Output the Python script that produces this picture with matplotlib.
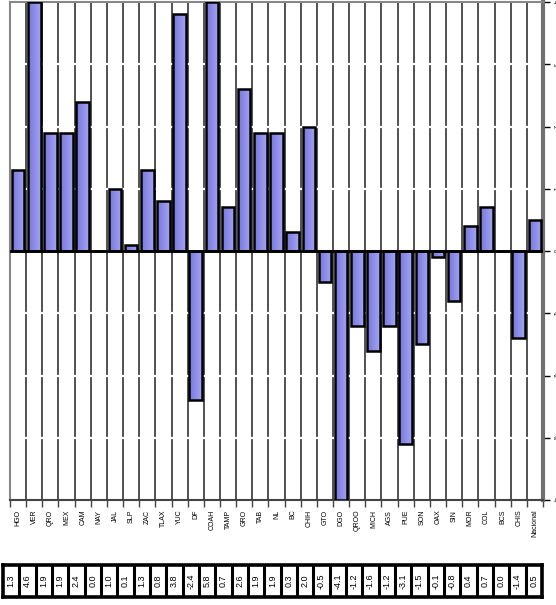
"""Bar chart of change by state, with value table underneath."""

import matplotlib.pyplot as plt
import numpy as np
from matplotlib.colors import LinearSegmentedColormap

plt.rcParams["font.family"] = ["Liberation Sans", "DejaVu Sans"]

# data
states = ["HGO", "VER", "QRO", "MEX", "CAM", "NAY", "JAL", "SLP", "ZAC", "TLAX",
          "YUC", "DF", "COAH", "TAMP", "GRO", "TAB", "NL", "BC", "CHIH", "GTO",
          "DGO", "QROO", "MICH", "AGS", "PUE", "SON", "OAX", "SIN", "MOR", "COL",
          "BCS", "CHIS", "Nacional"]
values = [1.3, 4.6, 1.9, 1.9, 2.4, 0.0, 1.0, 0.1, 1.3, 0.8,
          3.8, -2.4, 5.8, 0.7, 2.6, 1.9, 1.9, 0.3, 2.0, -0.5,
          -4.1, -1.2, -1.6, -1.2, -3.1, -1.5, -0.1, -0.8, 0.4, 0.7,
          0.0, -1.4, 0.5]
y_ticks = [-4, -3, -2, -1, 0, 1, 2, 3, 4]

W, H = 556, 605
fig = plt.figure(figsize=(W / 100, H / 100), dpi=100)
ax = fig.add_axes([10 / W, 105 / H, 533 / W, 498 / H])

n = len(states)
x = np.arange(n)
ymin, ymax = y_ticks[0], y_ticks[-1]

# category separators, broken by white horizontal gridlines
for b in np.arange(n + 1) - 0.5:
    ax.axvline(b, color="#222222", lw=1.1, zorder=1)
for t in y_ticks[1:-1]:
    if t != 0:
        ax.axhline(t, color="white", lw=1.6, zorder=2)

# bars (cut at the axis range so the outline stays visible)
shown = np.clip(values, ymin, ymax)
cmap = LinearSegmentedColormap.from_list("bar", ["#7676de", "#a4a4f2"])
grad = np.linspace(0, 1, 32).reshape(1, -1)
bars = ax.bar(x, shown, width=0.78, facecolor="none", edgecolor="black",
              linewidth=1.8, zorder=4)
for bar in bars:
    x0, w = bar.get_x(), bar.get_width()
    y0, h = bar.get_y(), bar.get_height()
    if h == 0:
        continue
    im = ax.imshow(grad, cmap=cmap, aspect="auto", zorder=3,
                   extent=(x0, x0 + w, min(y0, y0 + h), max(y0, y0 + h)))
    im.set_clip_path(bar)
ax.set_xlim(-0.5, n - 0.5)
ax.set_ylim(ymin, ymax)

ax.axhline(0, color="black", lw=2, zorder=5)

# spines
for side in ["top", "left"]:
    ax.spines[side].set_color("#888888")
    ax.spines[side].set_linewidth(1.5)
ax.spines["bottom"].set_color("#444444")
ax.spines["bottom"].set_linewidth(1.5)
ax.spines["right"].set_color("#707070")
ax.spines["right"].set_linewidth(3)

# x axis: labels at centres, ticks at boundaries
ax.set_xticks(x)
ax.set_xticklabels(states, rotation=90, fontsize=5, va="top")
ax.set_xticks(np.arange(n + 1) - 0.5, minor=True)
ax.tick_params(axis="x", which="major", length=0, pad=7)
ax.tick_params(axis="x", which="minor", length=5, width=1, color="#444444")

# y axis on the right, tiny rotated labels
ax.yaxis.tick_right()
ax.set_yticks(y_ticks)
ax.set_yticklabels([str(t) for t in y_ticks], rotation=-90, fontsize=4,
                   va="center")
ax.tick_params(axis="y", which="both", left=False, length=5, width=1,
               color="black", pad=1)

# value table below
tax = fig.add_axes([3 / W, 8 / H, 539 / W, 32 / H])
tax.set_xlim(0, n)
tax.set_ylim(0, 1)
tax.set_xticks([])
tax.set_yticks([])
for s in tax.spines.values():
    s.set_linewidth(2.6)
    s.set_color("black")
for i in range(1, n):
    tax.axvline(i, color="black", lw=2.2)
for i, v in enumerate(values):
    tax.text(i + 0.5, 0.5, f"{v:.1f}", rotation=90, ha="center",
             va="center", fontsize=6.5)

fig.savefig("out.png", dpi=100)
